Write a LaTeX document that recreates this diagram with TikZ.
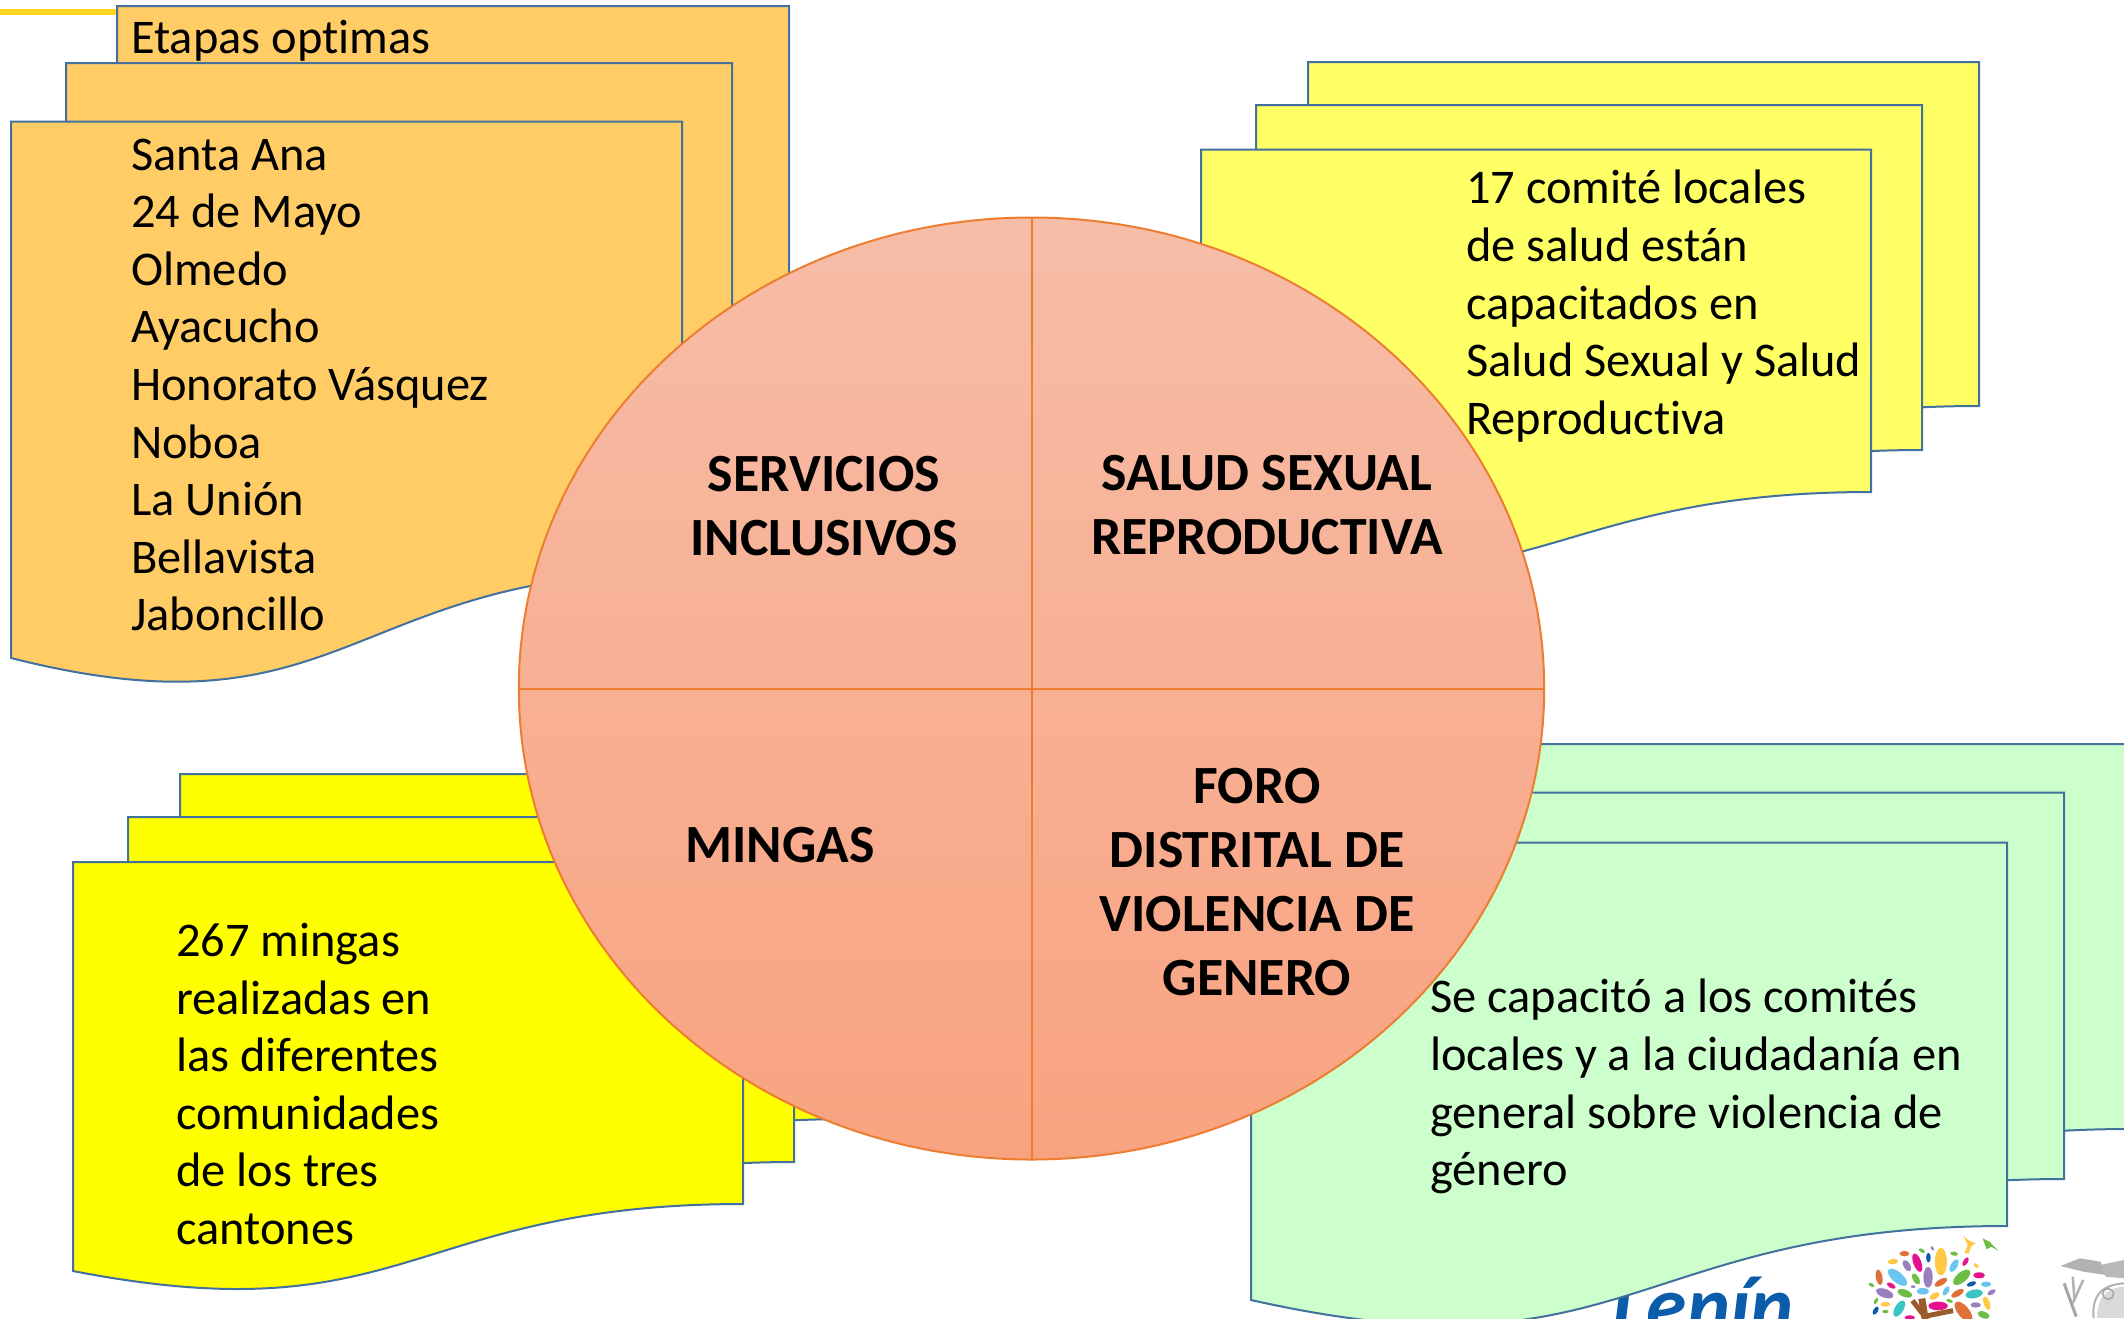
\documentclass[tikz,border=0pt]{standalone}
\usepackage{fontspec}
\setmainfont[Ligatures=CommonOff]{Carlito}
\definecolor{edgeblue}{HTML}{41719C}
\definecolor{orangefill}{HTML}{FFCC66}
\definecolor{softyellow}{HTML}{FFFF66}
\definecolor{pureyellow}{HTML}{FFFF00}
\definecolor{mintfill}{HTML}{CCFFCC}
\definecolor{pieedge}{HTML}{ED7D31}
\definecolor{pietop}{HTML}{F7BDA7}
\definecolor{piebottom}{HTML}{F8A380}
\definecolor{rulegold}{HTML}{FFD520}
\definecolor{gold}{HTML}{FFC845}
\definecolor{mag}{HTML}{E6138C}
\definecolor{navy}{HTML}{0B5CAB}
\definecolor{orn}{HTML}{E0703A}
\definecolor{grn}{HTML}{6CBE45}
\definecolor{lav}{HTML}{9A7FBF}
\definecolor{sky}{HTML}{6CC5EE}
\definecolor{teal2}{HTML}{3CC4C4}
\definecolor{trunk}{HTML}{9A5A2A}
\tikzset{
  sheet/.style={draw=edgeblue,line width=2pt,line join=miter},
  body/.style={anchor=north west,inner sep=0pt,align=left,font=\fontsize{48.4}{57.6}\selectfont,text=black},
  head/.style={inner sep=0pt,align=center,font=\fontsize{53.8}{64.3}\selectfont\bfseries,text=black},
}
% L T R yr yl yc fill
\newcommand{\sheetshape}[7]{%
  \filldraw[sheet,fill=#7] (#1,#2) -- (#3,#2) -- (#3,#4)
    .. controls ({(#1+#3)/2},#4) and ({(#1+#3)/2},#6) .. (#1,#5) -- cycle;}
\begin{document}
\begin{tikzpicture}[x=1pt,y=-1pt]
\useasboundingbox (0,0) rectangle (2124,1318);
\clip (0,0) rectangle (2124,1318);
\fill[white] (0,0) rectangle (2124,1318);
% gold rule
\fill[rulegold] (0,9) rectangle (117,15);
% logos peeking out at the bottom
\node[anchor=base west,inner sep=0pt,text=navy,font=\fontsize{82}{82}\selectfont\bfseries\itshape] (lenin) at (1612,1333) {Lenín};
\begin{scope}[shift={(1580,1220)},x=0.347pt,y=-0.333pt]
  \draw[trunk,line width=7pt] (985,236) -- (995,300);
  \draw[trunk,line width=5pt] (958,242) -- (990,285);
  \draw[trunk,line width=5pt] (990,290) -- (1075,272);
  \foreach \px/\py/\pl/\ps/\pa/\pc in {
    1040/125/40/18/90/gold,972/128/28/12/-70/mag,1004/113/14/7/90/navy,935/101/14/8/0/orn,
    985/92/10/5/-30/grn,1015/85/7/4/-60/lav,1078/101/11/6/-10/grn,902/125/15/8/5/gold,
    942/137/18/10/-60/lav,1078/137/20/10/60/sky,1111/125/14/7/60/mag,1142/137/9/5/-40/gold,
    862/172/22/10/-80/orn,915/172/34/16/-40/sky,968/177/18/9/-60/grn,1003/172/30/14/90/lav,
    1100/172/30/15/40/grn,1150/166/17/9/0/mag,840/195/9/5/-30/grn,897/197/14/7/-30/mag,
    960/200/7/4/0/lav,1040/187/20/9/30/orn,1128/192/14/7/20/navy,1170/193/15/8/0/sky,
    878/220/26/13/-20/lav,936/220/22/11/-20/grn,988/214/18/10/0/sky,1055/213/15/8/60/sky,
    1088/220/20/9/30/orn,1136/222/25/13/10/teal2,1186/217/13/7/30/lav,1022/228/16/9/30/gold,
    853/243/10/5/60/grn,880/253/14/7/0/gold,1065/243/10/5/-20/grn,920/266/26/13/60/teal2,
    1032/258/28/13/0/mag,1105/275/35/17/-50/orn,1140/255/15/8/0/lav,1172/250/20/9/-70/gold,
    852/272/13/7/60/navy,880/275/9/5/0/grn,1163/285/18/10/-20/grn,950/293/15/7/0/mag}
    \fill[\pc] (\px,\py) ellipse[x radius=\pl,y radius=\ps,rotate=\pa];
  \fill[gold] (1105,48) -- (1118,60) -- (1140,70) -- (1128,78) -- (1120,100) -- (1108,100) -- (1117,75) -- cycle;
  \fill[grn] (1160,55) -- (1180,65) -- (1205,92) -- (1185,80) -- (1172,88) -- cycle;
  % coat of arms
  \fill[gray!60] (1385,138) -- (1440,115) -- (1500,125) -- (1515,165) -- (1450,155) -- cycle;
  \fill[gray!55] (1500,135) -- (1568,120) -- (1568,175) -- (1515,170) -- cycle;
  \draw[gray!70,line width=3pt] (1395,190) -- (1430,290);
  \draw[gray!60,line width=2.5pt] (1420,170) -- (1425,240);
  \draw[gray!60,line width=2.5pt] (1450,180) -- (1420,250);
  \draw[gray!60,line width=2pt] (1480,294) .. controls (1475,230) and (1500,195) .. (1568,190);
  \fill[gray!30] (1490,294) .. controls (1490,240) and (1510,205) .. (1568,200) -- (1568,294) -- cycle;
  \draw[gray!70,line width=1.5pt] (1522,222) circle[radius=16];
\end{scope}
% orange stack
\sheetshape{117}{6}{789}{456}{542}{627}{orangefill}
\sheetshape{66}{63}{732}{513}{600}{685}{orangefill}
\sheetshape{11}{121.5}{682}{572}{658}{743}{orangefill}
% yellow stack, top right
\sheetshape{1308}{62}{1979}{406}{461}{535}{softyellow}
\sheetshape{1256}{105}{1922}{450}{504}{578}{softyellow}
\sheetshape{1201}{149.5}{1871}{492}{548}{622}{softyellow}
% yellow stack, bottom left
\sheetshape{180}{774}{850}{1119}{1183}{1250}{pureyellow}
\sheetshape{128}{817}{794}{1162}{1226}{1293}{pureyellow}
\sheetshape{73}{862}{743}{1204}{1271}{1336}{pureyellow}
% green stack
\sheetshape{1368}{744}{2130}{1129}{1202}{1287}{mintfill}
\sheetshape{1308}{792.5}{2064}{1179}{1250}{1335}{mintfill}
\sheetshape{1251}{842.5}{2007}{1226}{1300}{1385}{mintfill}
% central circle
\path[top color=pietop,bottom color=piebottom] (1031.5,688.5) ellipse[x radius=512.7,y radius=471];
\draw[pieedge,line width=2pt] (1031.5,688.5) ellipse[x radius=512.7,y radius=471];
\coordinate (ctop) at (1031.5,217.5);
\coordinate (cbot) at (1031.5,1159.5);
\coordinate (cleft) at (518.8,688.5);
\coordinate (cright) at (1544.2,688.5);
\draw[pieedge,line width=2pt] (ctop) -- (cbot);
\draw[pieedge,line width=2pt] (cleft) -- (cright);
% texts
\node[body] (t1) at (131,20) {Etapas optimas};
\node[body] (t2) at (131,138.5) {Santa Ana\\24 de Mayo\\Olmedo\\Ayacucho\\Honorato Vásquez\\Noboa\\La Unión\\Bellavista\\Jaboncillo};
\node[body] (t3) at (1466,170) {17 comité locales\\de salud están\\capacitados en\\Salud Sexual y Salud\\Reproductiva};
\node[body] (t4) at (176,923) {267 mingas\\realizadas en\\las diferentes\\comunidades\\de los tres\\cantones};
\node[body] (t5) at (1430,979) {Se capacitó a los comités\\locales y a la ciudadanía en\\general sobre violencia de\\género};
\node[head] (h1) at (824,506) {SERVICIOS\\INCLUSIVOS};
\node[head] (h2) at (1267,505) {SALUD SEXUAL\\REPRODUCTIVA};
\node[head] (h3) at (780,845) {MINGAS};
\node[head] (h4) at (1257,882) {FORO\\DISTRITAL DE\\VIOLENCIA DE\\GENERO};
\end{tikzpicture}
\end{document}
